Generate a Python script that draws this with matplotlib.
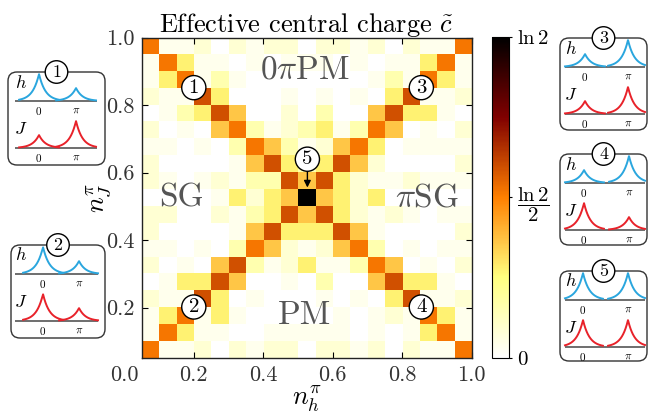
"""Effective central charge map over (n_h^pi, n_J^pi) with phase insets."""

import numpy as np
import matplotlib
matplotlib.use("Agg")
import matplotlib.pyplot as plt

plt.rcParams["font.family"] = "serif"
plt.rcParams["font.serif"] = ["cmr10", "DejaVu Serif"]
plt.rcParams["mathtext.fontset"] = "cm"
plt.rcParams["axes.unicode_minus"] = False

# colour levels (values of c~)
W, V, P, Q, Y, L, O, D, B = 0.0, 0.025, 0.06, 0.11, 0.19, 0.25, 0.36, 0.41, np.log(2)

# rows from n_J = 0.95..1.0 (top) down to 0.05..0.1 (bottom)
c_rows = [
    [O, V, V, P, W, P, V, P, P, W, P, P, V, P, W, P, V, V, O],
    [V, O, Y, V, V, W, V, W, V, V, V, W, V, W, V, V, Y, O, V],
    [V, Y, O, V, Q, V, W, W, W, W, W, W, W, V, Q, V, O, Y, V],
    [P, V, V, D, Y, W, W, W, V, W, V, W, V, W, Y, D, V, V, P],
    [W, V, Q, Y, D, L, W, W, P, W, Q, W, W, L, D, Y, Y, V, W],
    [P, W, V, W, L, O, Q, V, P, Q, Y, V, Q, O, L, W, V, W, P],
    [V, V, W, V, W, Q, O, L, Q, V, P, L, O, Y, W, V, V, V, V],
    [P, W, W, W, W, V, L, D, Y, Q, Y, D, L, P, W, W, W, W, P],
    [P, V, W, V, P, V, Q, Q, D, L, D, Y, P, V, V, P, V, V, V],
    [W, W, W, W, V, Y, P, Y, L, B, L, Y, P, Y, W, W, W, W, W],
    [P, P, W, W, P, V, Q, Y, D, L, D, Y, P, V, P, V, W, V, V],
    [P, W, W, W, W, V, L, D, Y, Y, Y, D, L, V, W, W, W, W, P],
    [V, V, W, V, W, Q, O, L, P, V, P, L, O, Q, W, V, W, V, V],
    [P, W, V, W, L, D, Q, V, P, Y, V, V, Q, O, L, W, V, W, P],
    [W, V, Y, Y, D, L, W, W, V, W, Q, W, W, L, D, Y, Y, V, W],
    [P, V, V, D, Y, W, V, W, W, W, V, W, V, W, Y, D, V, V, P],
    [V, Y, O, V, Y, V, W, W, W, W, W, V, W, V, P, V, O, Y, V],
    [V, O, Y, V, V, W, W, V, V, V, V, V, W, V, W, V, Y, O, V],
    [O, V, V, P, W, P, V, P, P, W, P, P, V, P, W, P, V, V, O],
]
n_lo, n_hi = 0.05, 1.0
tick_values = [0.2, 0.4, 0.6, 0.8, 1.0]

phase_names = [r"$0\pi$PM", "SG", r"$\pi$SG", "PM"]
phase_x = [0.52, 0.165, 0.87, 0.52]
phase_y = [0.905, 0.525, 0.525, 0.178]

mark_ids = ["1", "2", "3", "4"]
mark_x = [0.2, 0.2, 0.855, 0.855]
mark_y = [0.852, 0.202, 0.852, 0.202]
arrow_from = (0.527, 0.64)
arrow_to = (0.527, 0.556)

# inset peak heights (peak at 0, peak at pi)
inset_ids = ["1", "2", "3", "4", "5"]
h_peaks = [(1.0, 0.48), (1.0, 0.48), (0.48, 1.0), (0.48, 1.0), (1.0, 1.0)]
j_peaks = [(0.48, 1.0), (1.0, 0.48), (0.48, 1.0), (1.0, 0.48), (1.0, 1.0)]

# inset boxes in pixels: left, top, width, height
inset_boxes = [(8, 72, 97, 93), (11, 245, 94, 93), (560, 38, 87, 92),
               (560, 154, 87, 91), (560, 271, 87, 90)]
inset_peak_px = [(39, 76), (43, 79), (585, 628), (584, 629), (583, 628)]
inset_base_px = [(15, 97), (15, 98), (565, 645), (565, 645), (565, 645)]

BLUE = "#2aa6de"
RED = "#e8222a"
GRAY = "#555555"


def cusp(x, center, height, width=6.5, reach=20.0):
    """Return the cusp profile and its mask around one peak."""
    d = np.abs(x - center)
    return height * np.exp(-d / width), d <= reach


def draw_inset(ov, box, label, peaks_px, base_px, h_amp, j_amp):
    """Draw one rounded box with the h and J sketches."""
    left, top, width, height = box
    ov.add_patch(matplotlib.patches.FancyBboxPatch(
        (left, top), width, height,
        boxstyle="round,pad=0,rounding_size=9",
        fc="white", ec="#333333", lw=1.0))
    ov.text(left + width / 2, top, label, ha="center", va="center",
            fontsize=13, color="black",
            bbox=dict(boxstyle="circle,pad=0.2", fc="white", ec="black", lw=1.0))
    x = np.linspace(base_px[0], base_px[1], 400)
    for offset, amps, color, name in ((29, h_amp, BLUE, "h"), (76, j_amp, RED, "J")):
        base = top + offset
        ov.plot(base_px, [base, base], color=GRAY, lw=1.2, solid_capstyle="butt")
        for center, amp in zip(peaks_px, amps):
            y, mask = cusp(x, center, 27.0 * amp)
            ov.plot(x[mask], base - y[mask], color=color, lw=1.4)
        ov.text(peaks_px[0], base + 4, "$0$", ha="center", va="top", fontsize=8)
        ov.text(peaks_px[1], base + 4, r"$\pi$", ha="center", va="top", fontsize=8)
        ov.text(base_px[0] + 6, base - 19, "$%s$" % name, ha="center",
                va="center", fontsize=13)


def main():
    fig = plt.figure(figsize=(6.49, 4.13), dpi=100)

    ov = fig.add_axes([0, 0, 1, 1])
    ov.set_xlim(0, 649)
    ov.set_ylim(413, 0)
    ov.axis("off")

    ax = fig.add_axes([141.7 / 649, 1 - 358.3 / 413, 330 / 649, 320.6 / 413])
    im = ax.imshow(np.array(c_rows), origin="upper", cmap="afmhot_r",
                   vmin=0, vmax=np.log(2), aspect="auto",
                   interpolation="nearest",
                   extent=[n_lo, n_hi, n_lo, n_hi])
    ax.set_xlim(n_lo, n_hi)
    ax.set_ylim(n_lo, n_hi)
    ax.set_xticks(tick_values)
    ax.set_yticks(tick_values)
    ax.set_xticklabels(["%.1f" % t for t in tick_values])
    ax.set_yticklabels(["%.1f" % t for t in tick_values])
    ax.tick_params(direction="in", top=True, right=True, length=4,
                   width=0.8, labelsize=16, labelcolor="#333333", pad=5)
    ax.annotate("0.0", xy=(0.0, 0), xycoords=("data", "axes fraction"),
                xytext=(0, -5), textcoords="offset points", ha="center",
                va="top", fontsize=16, color="#333333", annotation_clip=False)
    for spine in ax.spines.values():
        spine.set_color("#222222")
        spine.set_linewidth(1.0)
    ax.set_title(r"Effective central charge $\tilde{c}$", fontsize=19, pad=4)
    ax.set_xlabel(r"$n_h^\pi$", fontsize=19, labelpad=-1)
    ax.set_ylabel(r"$n_J^\pi$", fontsize=19, labelpad=-5)

    for name, x, y in zip(phase_names, phase_x, phase_y):
        ax.text(x, y, name, ha="center", va="center", fontsize=24, color=GRAY)

    for label, x, y in zip(mark_ids, mark_x, mark_y):
        ax.text(x, y, label, ha="center", va="center", fontsize=15,
                bbox=dict(boxstyle="circle,pad=0.15", fc="white", ec="black", lw=1.0))
    ax.annotate("5", xy=arrow_to, xytext=arrow_from, ha="center", va="center",
                fontsize=15,
                bbox=dict(boxstyle="circle,pad=0.15", fc="white", ec="black", lw=1.0),
                arrowprops=dict(arrowstyle="-|>", color="black", lw=1.0,
                                mutation_scale=10, shrinkA=0, shrinkB=0))

    cax = fig.add_axes([491.7 / 649, 1 - 358 / 413, 17.6 / 649, 321.3 / 413])
    cb = fig.colorbar(im, cax=cax, ticks=[0, np.log(2) / 2, np.log(2)])
    cb.ax.set_yticklabels(["$0$", r"$\dfrac{\ln 2}{2}$", r"$\ln 2$"])
    cb.ax.tick_params(labelsize=15, length=2, width=0.8)
    cb.outline.set_linewidth(0.8)

    for i, label in enumerate(inset_ids):
        draw_inset(ov, inset_boxes[i], label, inset_peak_px[i],
                   inset_base_px[i], h_peaks[i], j_peaks[i])

    fig.savefig("out.png", dpi=100)


if __name__ == "__main__":
    main()
